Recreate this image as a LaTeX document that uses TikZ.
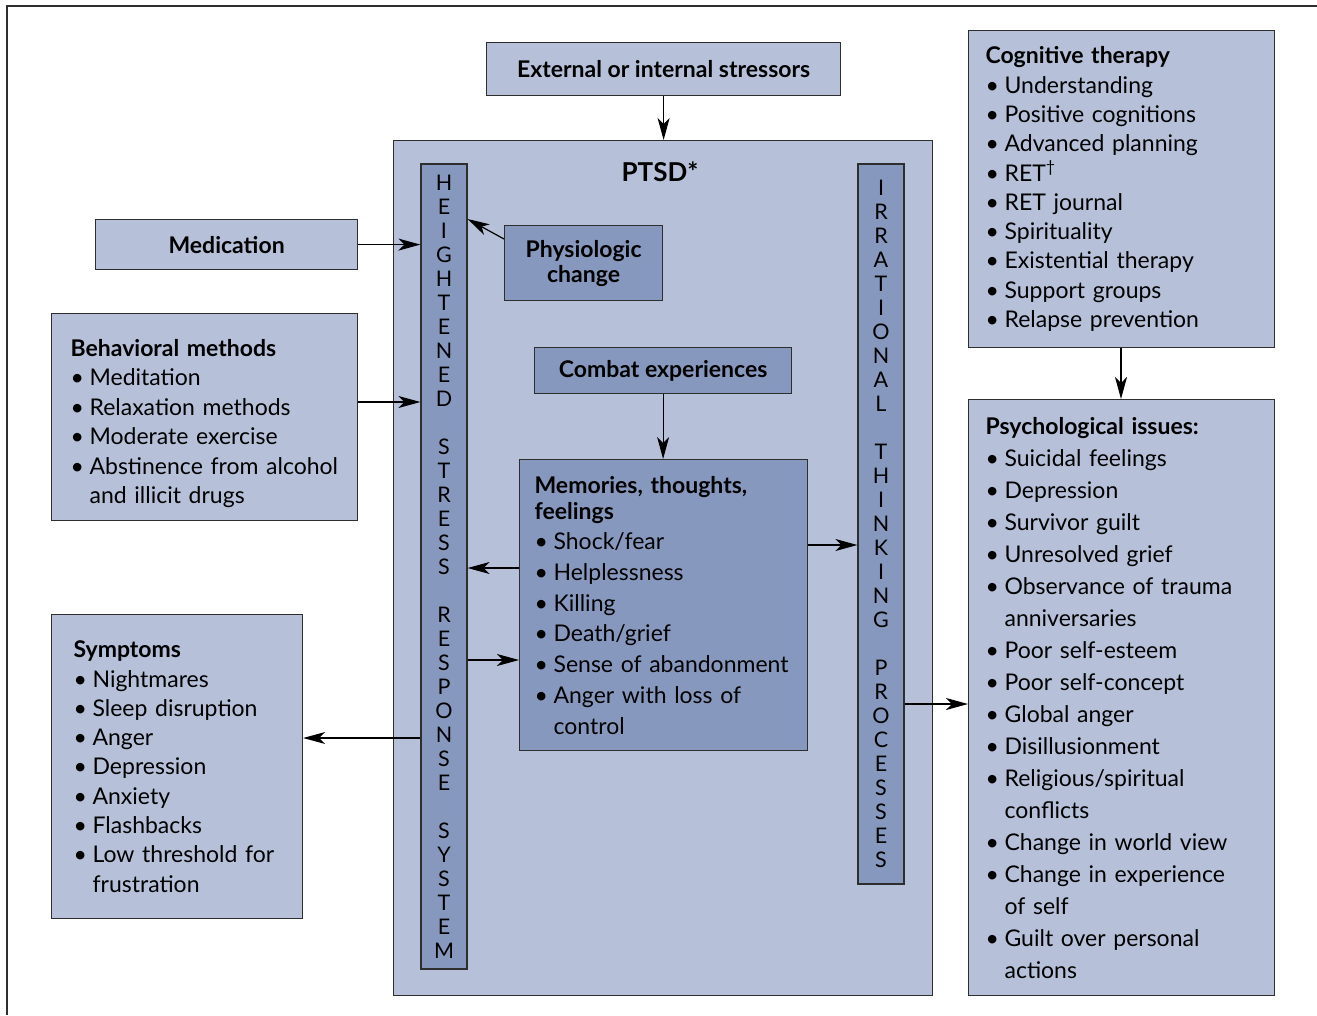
\documentclass[tikz,border=0pt]{standalone}
\usepackage{fontspec}
\setmainfont{Lato}
\usetikzlibrary{arrows.meta}

\definecolor{boxlight}{HTML}{B6C1D9}
\definecolor{boxdark}{HTML}{8798BE}
\definecolor{edgegray}{HTML}{2E2E2E}

\newcommand{\bul}{\makebox[19pt][l]{\textbullet}}
\newcommand{\ind}{\hspace*{19pt}}

\tikzset{
    lbox/.style={draw=edgegray, line width=1.2pt, fill=boxlight, anchor=north west, inner sep=0pt, align=left},
    dbox/.style={lbox, fill=boxdark},
    hbox/.style={lbox, align=center, font=\fontsize{23}{25}\selectfont\bfseries},
    conn/.style={-{Stealth[length=22pt, width=12pt, inset=6pt]}, line width=1.2pt},
    column/.style={dbox, anchor=center, minimum width=46, align=center, font=\fontsize{21.5}{24}\selectfont},
}

\begin{document}
\begin{tikzpicture}[x=1pt, y=-1pt]
    \useasboundingbox (0,0) rectangle (1317,1015);

    % frame
    \draw[line width=1.2pt, edgegray] (7,1015) -- (7,6) -- (1317,6);

    % PTSD area
    \node[lbox, minimum width=539, minimum height=855] (ptsd) at (393,140) {};
    \node[font=\fontsize{26}{28}\selectfont\bfseries] (ptsdlbl) at (660,172) {PTSD*};

    \node[column, minimum height=805] (hss) at (444,566.5)
        {H\\E\\I\\G\\H\\T\\E\\N\\E\\D\\[24pt]S\\T\\R\\E\\S\\S\\[24pt]R\\E\\S\\P\\O\\N\\S\\E\\[24pt]S\\Y\\S\\T\\E\\M};
    \node[column, minimum height=720] (itp) at (881,524)
        {I\\R\\R\\A\\T\\I\\O\\N\\A\\L\\[24pt]T\\H\\I\\N\\K\\I\\N\\G\\[24pt]P\\R\\O\\C\\E\\S\\S\\E\\S};

    \node[hbox, minimum width=354, minimum height=53] (stress) at (486,42) {External or internal stressors};
    \node[hbox, minimum width=262, minimum height=50] (med) at (95,219) {Medication};
    \node[hbox, dbox, align=center, minimum width=158, minimum height=75,
          font=\fontsize{23}{25}\selectfont\bfseries] (phys) at (504,225) {Physiologic\\change};
    \node[hbox, dbox, align=center, minimum width=257, minimum height=46] (combat) at (534,347) {Combat experiences};

    % lists
    \node[lbox, minimum width=306, minimum height=207, text width=268, inner xsep=19,
          font=\fontsize{23}{29.4}\selectfont] (behav) at (51,313)
        {\rule{0pt}{30pt}\textbf{Behavioral methods}\\
         \bul Meditation\\
         \bul Relaxation methods\\
         \bul Moderate exercise\\
         \bul Abstinence from alcohol\\
         \ind and illicit drugs};

    \node[lbox, minimum width=251, minimum height=304, text width=207, inner xsep=22,
          font=\fontsize{23}{29.3}\selectfont] (symp) at (51,614)
        {\textbf{Symptoms}\\
         \bul Nightmares\\
         \bul Sleep disruption\\
         \bul Anger\\
         \bul Depression\\
         \bul Anxiety\\
         \bul Flashbacks\\
         \bul Low threshold for\\
         \ind frustration};

    \node[dbox, minimum width=288, minimum height=291, text width=258, inner xsep=15,
          font=\fontsize{23}{30.7}\selectfont] (mem) at (519,459)
        {\textbf{Memories, thoughts,}\\[-4.7pt]
         \textbf{feelings}\\
         \bul Shock/fear\\
         \bul Helplessness\\
         \bul Killing\\
         \bul Death/grief\\
         \bul Sense of abandonment\\
         \bul Anger with loss of\\
         \ind control};

    \node[lbox, minimum width=306, minimum height=317, text width=272, inner xsep=17,
          font=\fontsize{23}{29.3}\selectfont] (cog) at (968,30)
        {\textbf{Cognitive therapy}\\
         \bul Understanding\\
         \bul Positive cognitions\\
         \bul Advanced planning\\
         \bul RET\textsuperscript{\textdagger}\\
         \bul RET journal\\
         \bul Spirituality\\
         \bul Existential therapy\\
         \bul Support groups\\
         \bul Relapse prevention};

    \node[lbox, minimum width=306, minimum height=596, text width=272, inner xsep=17,
          font=\fontsize{23}{32}\selectfont] (psy) at (968,399)
        {\textbf{Psychological issues:}\\
         \bul Suicidal feelings\\
         \bul Depression\\
         \bul Survivor guilt\\
         \bul Unresolved grief\\
         \bul Observance of trauma\\
         \ind anniversaries\\
         \bul Poor self-esteem\\
         \bul Poor self-concept\\
         \bul Global anger\\
         \bul Disillusionment\\
         \bul Religious/spiritual\\
         \ind conflicts\\
         \bul Change in world view\\
         \bul Change in experience\\
         \ind of self\\
         \bul Guilt over personal\\
         \ind actions};

    % connectors
    \draw[conn] (stress.south) -- (ptsd.north -| stress.south);
    \draw[conn] (med.east) -- (hss.west |- med.east);
    \draw[conn] (phys.west |- 0,239) -- (hss.east |- 0,219);
    \draw[conn] (behav.east |- 0,402) -- (hss.west |- 0,402);
    \draw[conn] (combat.south) -- (mem.north -| combat.south);
    \draw[conn] (mem.west |- 0,568) -- (hss.east |- 0,568);
    \draw[conn] (hss.east |- 0,660) -- (mem.west |- 0,660);
    \draw[conn] (mem.east |- 0,545) -- (itp.west |- 0,545);
    \draw[conn] (itp.east |- 0,704) -- (psy.west |- 0,704);
    \draw[conn] (cog.south -| 1121,0) -- (psy.north -| 1121,0);
    \draw[conn] (hss.west |- 0,738) -- (symp.east |- 0,738);
\end{tikzpicture}
\end{document}
